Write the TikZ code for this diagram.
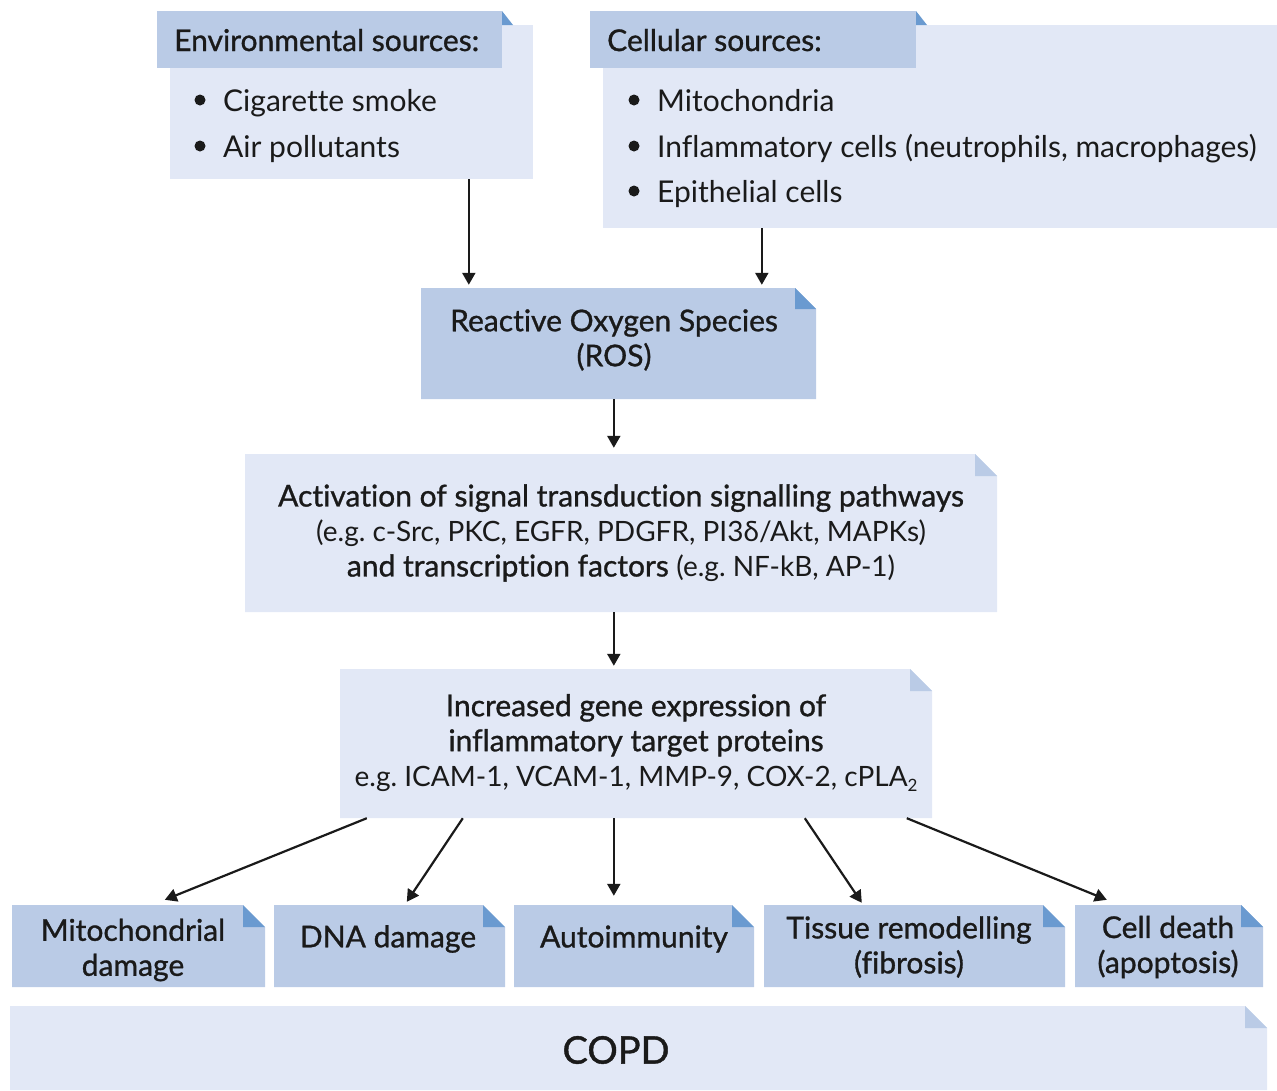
\documentclass[tikz,border=0pt]{standalone}
\usepackage{fontspec}
\setmainfont{Lato}[Ligatures=NoCommon]
\newfontfamily\medfont{Lato}[Ligatures=NoCommon,FakeBold=1]
\usetikzlibrary{arrows.meta,calc}
\definecolor{boxdark}{HTML}{BACBE6}
\definecolor{boxlight}{HTML}{E2E8F6}
\definecolor{folddark}{HTML}{6A9AD0}
\definecolor{ink}{HTML}{1A1A1A}
\frenchspacing
\newcommand\smallline{\fontsize{28}{35}\selectfont}
% name, x1, y1, x2, y2, fill, fold colour, fold size
\newcommand\fbx[8]{%
  \fill[#6] (#2,#3) -- ({#4-#8},#3) -- (#4,{#3+#8}) -- (#4,#5) -- (#2,#5) -- cycle;
  \fill[#7] ({#4-#8},#3) -- ({#4-#8},{#3+#8}) -- (#4,{#3+#8}) -- cycle;
  \node[inner sep=0pt, minimum width={#4-#2}, minimum height={#5-#3}] (#1) at ({(#2+#4)/2},{(#3+#5)/2}) {};
}
\begin{document}
\begin{tikzpicture}[x=1pt,y=-1pt,
  font=\fontsize{30}{35}\selectfont\frenchspacing, text=ink,
  txt/.style={inner sep=0pt, text=ink},
  med/.style={txt, font=\fontsize{30}{35}\selectfont\medfont},
  bul/.style={circle, fill=ink, inner sep=0pt, minimum size=11pt},
  arr/.style={-{Triangle[length=12pt,width=13pt]}, line width=2.2pt, draw=ink}]
\useasboundingbox (0,0) rectangle (1277,1090);

% ---- environmental sources
\fill[boxlight] (170,25) rectangle (533,179);
\node[inner sep=0pt, minimum width=363, minimum height=154] (envl) at (351.5,102) {};
\fill[boxdark] (157,11) rectangle (502,68);
\node[inner sep=0pt, minimum width=345, minimum height=57] (envh) at (329.5,39.5) {};
\fill[folddark] (502,11) -- (502,25) -- (513,25) -- cycle;
\node[med, anchor=base west] (envt) at (174,51) {Environmental sources:};
\node[bul] (eb1) at (200,100) {};
\node[txt, anchor=base west] (e1) at (223,111) {Cigarette smoke};
\node[bul] (eb2) at (200,146) {};
\node[txt, anchor=base west] (e2) at (223,157) {Air pollutants};

% ---- cellular sources
\fill[boxlight] (603,25) rectangle (1277,228);
\node[inner sep=0pt, minimum width=674, minimum height=203] (cell) at (940,126.5) {};
\fill[boxdark] (590,11) rectangle (916,68);
\node[inner sep=0pt, minimum width=326, minimum height=57] (cellh) at (753,39.5) {};
\fill[folddark] (916,11) -- (916,25) -- (927,25) -- cycle;
\node[med, anchor=base west] (cellt) at (607,51) {Cellular sources:};
\node[bul] (cb1) at (634,100) {};
\node[txt, anchor=base west] (c1) at (657,111) {Mitochondria};
\node[bul] (cb2) at (634,146) {};
\node[txt, anchor=base west] (c2) at (657,157) {Inflammatory cells (neutrophils, macrophages)};
\node[bul] (cb3) at (634,191) {};
\node[txt, anchor=base west] (c3) at (657,202) {Epithelial cells};

% ---- ROS
\fbx{ros}{421}{288}{816}{399}{boxdark}{folddark}{21}
\node[med, align=center] (rost) at (614,340) {Reactive Oxygen Species\\(ROS)};

% ---- activation
\fbx{act}{245}{454}{997}{612}{boxlight}{boxdark}{22}
\node[txt, align=center] (actt) at (621,533) {{\medfont Activation of signal transduction signalling pathways}\\{\smallline(e.g. c-Src, PKC, EGFR, PDGFR, PI3δ/Akt, MAPKs)}\\{\medfont and transcription factors} {\smallline(e.g. NF-kB, AP-1)}};

% ---- gene expression
\fbx{gene}{340}{669}{932}{818}{boxlight}{boxdark}{22}
\node[txt, align=center] (genet) at (636,743) {{\medfont Increased gene expression of}\\{\medfont inflammatory target proteins}\\{\smallline e.g. ICAM-1, VCAM-1, MMP-9, COX-2, cPLA\raisebox{-0.4ex}{\fontsize{17}{17}\selectfont 2}}};

% ---- outcomes
\fbx{mito}{12}{905}{265}{987}{boxdark}{folddark}{22}
\fbx{dna}{274}{905}{505}{987}{boxdark}{folddark}{22}
\fbx{auto}{514}{905}{754}{987}{boxdark}{folddark}{22}
\fbx{tiss}{764}{905}{1065}{987}{boxdark}{folddark}{22}
\fbx{death}{1075}{905}{1263}{987}{boxdark}{folddark}{22}
\node[med, align=center] (mitot) at (133,950) {Mitochondrial\\damage};
\node[med] (dnat) at (388,939) {DNA damage};
\node[med] (autot) at (634,939) {Autoimmunity};
\node[med, align=center] (tisst) at (909,947) {Tissue remodelling\\(fibrosis)};
\node[med, align=center] (deatht) at (1168,947) {Cell death\\(apoptosis)};

% ---- COPD
\fbx{copd}{10}{1006}{1267}{1090}{boxlight}{boxdark}{22}
\node[txt, font=\fontsize{38}{44}\selectfont\medfont] (copdt) at (616,1050) {COPD};

% ---- connectors
\draw[arr] ($(envl.south west)+(299,0)$) -- ($(ros.north west)+(48,-3)$);
\draw[arr] ($(cell.south west)+(159,0)$) -- ($(ros.north west)+(341,-3)$);
\draw[arr] ($(ros.south west)+(193,0)$) -- ($(act.north west)+(369,-6)$);
\draw[arr] ($(act.south west)+(369,0)$) -- ($(gene.north west)+(274,-3)$);
\draw[arr] ($(gene.south west)+(27,0)$) -- ($(mito.north west)+(153,-5)$);
\draw[arr] ($(gene.south west)+(123,0)$) -- ($(dna.north west)+(133,-3)$);
\draw[arr] ($(gene.south west)+(274,0)$) -- ($(auto.north west)+(100,-9)$);
\draw[arr] ($(gene.south west)+(465,0)$) -- ($(tiss.north west)+(98,-2)$);
\draw[arr] ($(gene.south west)+(567,0)$) -- ($(death.north west)+(32,-5)$);
\end{tikzpicture}
\end{document}
